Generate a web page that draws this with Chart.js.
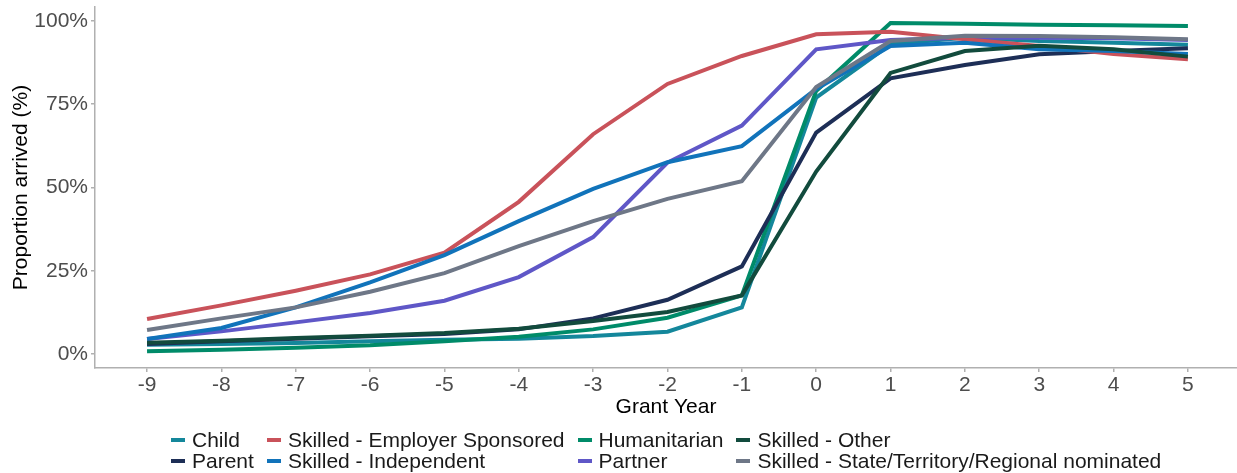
<!DOCTYPE html>
<html>
<head>
<meta charset="utf-8">
<script src="https://cdn.jsdelivr.net/npm/chart.js@4.4.1/dist/chart.umd.min.js"></script>
<style>
  body { margin: 0; background: #fff; }
  .wrap { position: relative; width: 1237px; height: 473px; }
  .legend {
    position: absolute; left: 171px; top: 429px;
    display: grid; grid-template-columns: auto auto auto auto; grid-auto-flow: column;
    grid-template-rows: 21px 21px; column-gap: 13px;
    font-family: "Liberation Sans", Arial, sans-serif; font-size: 21px; color: #1a1a1a;
  }
  .legend div { display: flex; align-items: center; line-height: 21px; white-space: nowrap; }
  .legend span.key { display: inline-block; width: 14px; height: 4px; margin-right: 7px; }
</style>
</head>
<body>
<div class="wrap">
  <canvas id="chart" width="1237" height="473"></canvas>
  <div class="legend" id="legend"></div>
</div>
<script>
const grant_years = [-9, -8, -7, -6, -5, -4, -3, -2, -1, 0, 1, 2, 3, 4, 5];
const y_ticks = [0, 25, 50, 75, 100];

// legend order (column-wise, as in the picture)
const series_names = [
  "Child", "Parent",
  "Skilled - Employer Sponsored", "Skilled - Independent",
  "Humanitarian", "Partner",
  "Skilled - Other", "Skilled - State/Territory/Regional nominated"
];

const child = [2.8, 3.0, 3.3, 3.8, 4.3, 4.6, 5.4, 6.7, 14.0, 77.0, 93.0, 95.0, 94.0, 93.5, 92.9];
const parent = [3.0, 3.8, 4.6, 5.3, 6.0, 7.4, 10.7, 16.3, 26.3, 66.5, 82.8, 86.8, 90.0, 91.0, 91.8];
const employer_sponsored = [10.5, 14.6, 19.0, 23.9, 30.4, 45.7, 66.0, 81.1, 89.5, 96.0, 96.8, 94.5, 92.5, 90.1, 88.5];
const independent = [4.5, 7.8, 14.0, 21.5, 29.7, 39.9, 49.6, 57.6, 62.4, 79.6, 92.5, 93.5, 91.5, 91.0, 90.1];
const humanitarian = [0.8, 1.3, 1.9, 2.6, 3.8, 5.2, 7.4, 10.9, 17.6, 79.0, 99.4, 99.2, 98.9, 98.7, 98.5];
const partner = [4.5, 6.8, 9.5, 12.3, 16.0, 23.1, 35.1, 57.5, 68.6, 91.5, 94.3, 95.0, 95.0, 94.8, 94.3];
const skilled_other = [3.4, 4.0, 4.8, 5.5, 6.3, 7.6, 9.9, 12.6, 17.6, 54.8, 84.4, 91.0, 92.6, 91.5, 89.3];
const state_nominated = [7.2, 10.7, 14.0, 18.7, 24.3, 32.4, 39.9, 46.6, 51.9, 80.2, 94.0, 95.6, 95.5, 95.1, 94.5];

const series_values = [child, parent, employer_sponsored, independent, humanitarian, partner, skilled_other, state_nominated];
const series_colors = ["#14879B", "#1D2E56", "#C9525A", "#1173BA", "#008B69", "#5F57C7", "#124B3D", "#6E7787"];
// drawing order: alphabetical, last one on top
const draw_rank = [0, 2, 4, 5, 1, 3, 6, 7];

const datasets = series_names.map((name, i) => ({
  label: name,
  data: series_values[i].map((v, j) => ({ x: grant_years[j], y: v })),
  borderColor: series_colors[i],
  backgroundColor: series_colors[i],
  borderWidth: 4,
  pointRadius: 0,
  tension: 0,
  order: 7 - draw_rank[i],
}));

const axis_grey = "#b0b0b0";
const font_family = "'Liberation Sans', Arial, sans-serif";
const tick_font = { family: font_family, size: 21 };

new Chart(document.getElementById("chart"), {
  type: "line",
  data: { datasets: datasets },
  options: {
    responsive: false,
    animation: false,
    layout: { padding: { top: 7, right: 0, bottom: 53, left: 0 } },
    plugins: { legend: { display: false }, tooltip: { enabled: false } },
    scales: {
      x: {
        type: "linear",
        min: -9.7,
        max: 5.66,
        afterBuildTicks: (scale) => { scale.ticks = grant_years.map((v) => ({ value: v })); },
        afterFit: (scale) => { scale.height = 52; scale.paddingLeft = 0; scale.paddingRight = 0; },
        grid: { drawOnChartArea: false, tickLength: 4, color: axis_grey, lineWidth: 1.5 },
        border: { color: axis_grey, width: 1.5 },
        ticks: { color: "#4d4d4d", font: tick_font, padding: 1, maxRotation: 0 },
        title: {
          display: true, text: "Grant Year", color: "#000",
          font: { family: font_family, size: 21 },
          padding: { top: 0, bottom: 0 },
        },
      },
      y: {
        min: -4.2,
        max: 104.2,
        afterBuildTicks: (scale) => { scale.ticks = y_ticks.map((v) => ({ value: v })); },
        afterFit: (scale) => { scale.width = 95; scale.paddingTop = 0; scale.paddingBottom = 0; },
        grid: { drawOnChartArea: false, tickLength: 4, color: axis_grey, lineWidth: 1.5 },
        border: { color: axis_grey, width: 1.5 },
        ticks: { color: "#4d4d4d", font: tick_font, padding: 3, callback: (v) => v + "%" },
        title: {
          display: true, text: "Proportion arrived (%)", color: "#000",
          font: { family: font_family, size: 21 },
          padding: { top: 9, bottom: 0 },
        },
      },
    },
  },
});

const legend = document.getElementById("legend");
series_names.forEach((name, i) => {
  const item = document.createElement("div");
  const key = document.createElement("span");
  key.className = "key";
  key.style.backgroundColor = series_colors[i];
  item.appendChild(key);
  item.appendChild(document.createTextNode(name));
  legend.appendChild(item);
});
</script>
</body>
</html>
